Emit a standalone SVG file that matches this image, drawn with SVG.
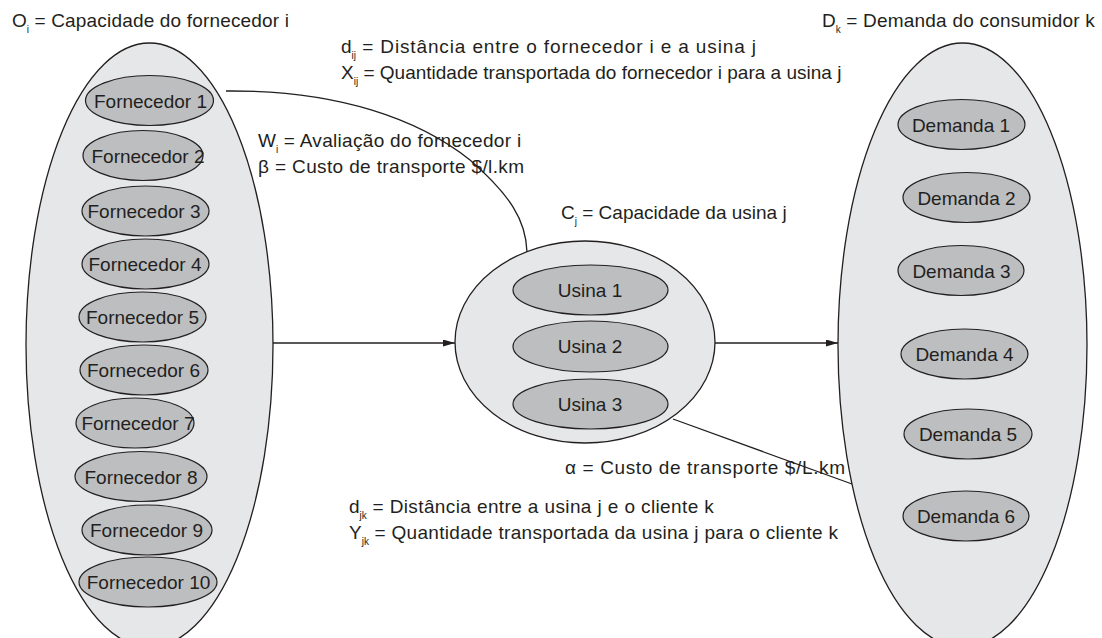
<svg xmlns="http://www.w3.org/2000/svg" width="1102" height="638" viewBox="0 0 1102 638">
<defs>
<style>
.big{fill:#e6e7e8;stroke:#231f20;stroke-width:1.3}
.in{fill:#bcbec0;stroke:#231f20;stroke-width:1.2}
.t{font-family:"Liberation Sans",Arial,sans-serif;font-size:19px;fill:#231f20}
.nt{font-family:"Liberation Sans",Arial,sans-serif;font-size:19px;fill:#231f20;text-anchor:middle}
.sub{font-size:10px}
.ln{fill:none;stroke:#231f20;stroke-width:1.3}
</style>
<marker id="ah" markerUnits="userSpaceOnUse" markerWidth="13" markerHeight="8" refX="12" refY="3.5" orient="auto">
<path d="M0,0 L12,3.5 L0,7 z" fill="#231f20"/>
</marker>
</defs>
<rect width="1102" height="638" fill="#ffffff"/>

<g id="fornecedores">
<ellipse class="big" cx="149.5" cy="345" rx="123.5" ry="302"/>
<g id="fornecedor1"><ellipse class="in" cx="149.5" cy="100.5" rx="64" ry="25"/><text class="nt" x="150.5" y="107.5">Fornecedor 1</text></g>
<g id="fornecedor2"><ellipse class="in" cx="143" cy="155.5" rx="60" ry="25"/><text class="nt" x="148" y="162.5">Fornecedor 2</text></g>
<g id="fornecedor3"><ellipse class="in" cx="145.5" cy="211" rx="63.5" ry="25"/><text class="nt" x="144" y="218">Fornecedor 3</text></g>
<g id="fornecedor4"><ellipse class="in" cx="145.5" cy="264" rx="63.5" ry="25"/><text class="nt" x="145" y="271">Fornecedor 4</text></g>
<g id="fornecedor5"><ellipse class="in" cx="142.5" cy="317" rx="63.5" ry="25"/><text class="nt" x="142.5" y="324">Fornecedor 5</text></g>
<g id="fornecedor6"><ellipse class="in" cx="144" cy="370" rx="64" ry="25"/><text class="nt" x="143.5" y="377">Fornecedor 6</text></g>
<g id="fornecedor7"><ellipse class="in" cx="135" cy="423" rx="59" ry="25"/><text class="nt" x="138" y="430">Fornecedor 7</text></g>
<g id="fornecedor8"><ellipse class="in" cx="141" cy="476.5" rx="66" ry="25"/><text class="nt" x="141" y="483.5">Fornecedor 8</text></g>
<g id="fornecedor9"><ellipse class="in" cx="147" cy="530" rx="65" ry="25"/><text class="nt" x="146.5" y="537">Fornecedor 9</text></g>
<g id="fornecedor10"><ellipse class="in" cx="148" cy="582" rx="69" ry="25"/><text class="nt" x="148.5" y="589">Fornecedor 10</text></g>
</g>

<g id="usinas">
<ellipse class="big" cx="585" cy="342" rx="130" ry="101"/>
<g id="usina1"><ellipse class="in" cx="590.5" cy="290" rx="77.5" ry="25"/><text class="nt" x="590" y="297">Usina 1</text></g>
<g id="usina2"><ellipse class="in" cx="590.5" cy="346.5" rx="77.5" ry="25.5"/><text class="nt" x="590" y="353">Usina 2</text></g>
<g id="usina3"><ellipse class="in" cx="590.5" cy="404" rx="77.5" ry="25"/><text class="nt" x="590" y="411">Usina 3</text></g>
</g>

<g id="demandas">
<ellipse class="big" cx="962.5" cy="345" rx="124.5" ry="302"/>
<g id="demanda1"><ellipse class="in" cx="961.5" cy="124.5" rx="63.5" ry="25"/><text class="nt" x="961" y="131.5">Demanda 1</text></g>
<g id="demanda2"><ellipse class="in" cx="966.5" cy="197.5" rx="63.5" ry="25"/><text class="nt" x="966.5" y="204.5">Demanda 2</text></g>
<g id="demanda3"><ellipse class="in" cx="961" cy="270.5" rx="63" ry="25"/><text class="nt" x="961.5" y="277.5">Demanda 3</text></g>
<g id="demanda4"><ellipse class="in" cx="964.5" cy="354" rx="63.5" ry="25"/><text class="nt" x="964.5" y="361">Demanda 4</text></g>
<g id="demanda5"><ellipse class="in" cx="968" cy="434" rx="64" ry="25"/><text class="nt" x="968" y="441">Demanda 5</text></g>
<g id="demanda6"><ellipse class="in" cx="966" cy="516" rx="63" ry="25"/><text class="nt" x="966" y="523">Demanda 6</text></g>
</g>

<g id="connectors">
<path class="ln" d="M226,91 C340,90 420,120 470,160 C510,195 526,220 527,252"/>
<path class="ln" d="M273,343 H455" marker-end="url(#ah)"/>
<path class="ln" d="M715,343 H838" marker-end="url(#ah)"/>
<path class="ln" d="M673,419 L852,484"/>
</g>

<g id="labels">
<text class="t" x="12" y="27">O<tspan class="sub" dy="6">i</tspan><tspan dy="-6" textLength="260" lengthAdjust="spacing"> = Capacidade do fornecedor i</tspan></text>
<text class="t" x="822" y="27">D<tspan class="sub" dy="6">k</tspan><tspan dy="-6" textLength="254" lengthAdjust="spacing"> = Demanda do consumidor k</tspan></text>
<text class="t" x="341" y="53">d<tspan class="sub" dy="6">ij</tspan><tspan dy="-6" textLength="400" lengthAdjust="spacing"> = Distância entre o fornecedor i e a usina j</tspan></text>
<text class="t" x="341" y="79">X<tspan class="sub" dy="6">ij</tspan><tspan dy="-6"> = Quantidade transportada do fornecedor i para a usina j</tspan></text>
<text class="t" x="258" y="147">W<tspan class="sub" dy="6">i</tspan><tspan dy="-6" textLength="243" lengthAdjust="spacing"> = Avaliação do fornecedor i</tspan></text>
<text class="t" x="258" y="173" textLength="266" lengthAdjust="spacing">β = Custo de transporte $/l.km</text>
<text class="t" x="561" y="219">C<tspan class="sub" dy="6">j</tspan><tspan dy="-6"> = Capacidade da usina j</tspan></text>
<text class="t" x="565" y="474" textLength="280" lengthAdjust="spacing">α = Custo de transporte $/L.km</text>
<text class="t" x="349" y="513">d<tspan class="sub" dy="6">jk</tspan><tspan dy="-6" textLength="347" lengthAdjust="spacing"> = Distância entre a usina j e o cliente k</tspan></text>
<text class="t" x="349" y="539">Y<tspan class="sub" dy="6">jk</tspan><tspan dy="-6" textLength="469" lengthAdjust="spacing"> = Quantidade transportada da usina j para o cliente k</tspan></text>
</g>
</svg>
